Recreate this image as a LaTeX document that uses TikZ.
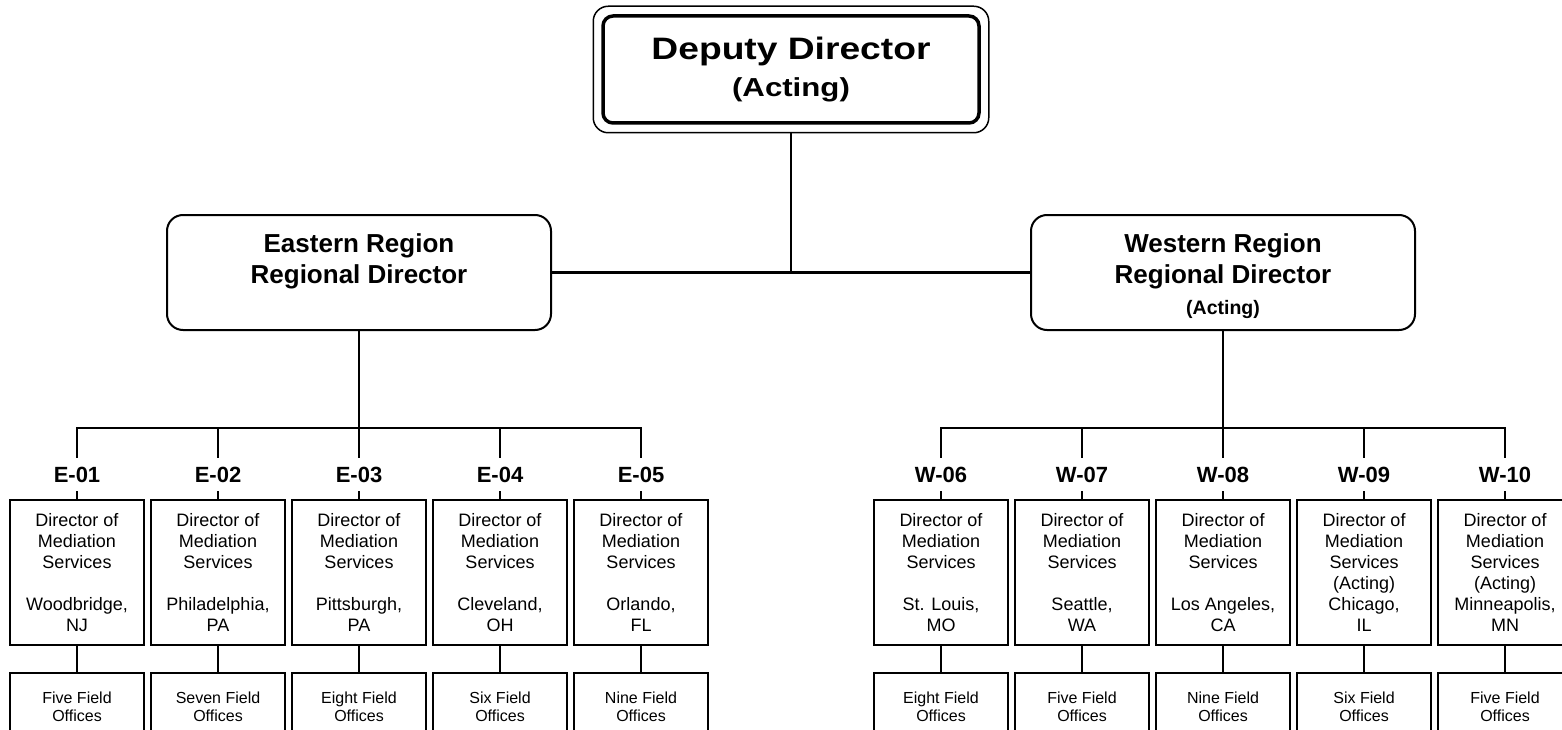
\documentclass[tikz,border=0pt]{standalone}
\usepackage{fontspec}
\setmainfont{Liberation Sans}
\newfontfamily\titlefont[FakeStretch=1.2]{Liberation Sans}
\usetikzlibrary{fit}
\tikzstyle{chief}=[draw, line width=3.5pt, rounded corners=10pt, minimum width=376pt, minimum height=107pt, inner sep=0, align=center, font=\titlefont\bfseries\fontsize{31}{37}\selectfont]
\tikzstyle{chief frame}=[draw, line width=1.5pt, rounded corners=15pt, inner sep=8pt]
\tikzstyle{region}=[draw, line width=2pt, rounded corners=16pt, minimum width=384pt, minimum height=115pt, inner sep=0, align=center, font=\bfseries\fontsize{26}{31}\selectfont]
\tikzstyle{code}=[inner sep=8.5pt, text height=16pt, text depth=0pt, font=\bfseries\fontsize{22}{26}\selectfont]
\tikzstyle{district}=[draw, line width=2pt, minimum width=134pt, minimum height=145pt, inner sep=0, align=center, font=\fontsize{18}{21}\selectfont]
\tikzstyle{field}=[draw, line width=2pt, minimum width=134pt, minimum height=67pt, inner sep=0, align=center, font=\fontsize{16}{18}\selectfont]
\tikzstyle{link}=[line width=2.5pt]

\begin{document}
\begin{tikzpicture}[x=1pt, y=-1pt]
      \clip (0, 0) rectangle (1562, 730);

      \node[chief] (deputy) at (791, 69.5) {Deputy Director\\{\fontsize{26}{37}\selectfont (Acting)}};
      \node[chief frame, fit=(deputy)] (deputy_frame) {};

      \node[region] (east) at (359, 272.5) {\rule{0pt}{27pt}Eastern Region\\Regional Director\\{\fontsize{19.5}{30}\selectfont\phantom{(Acting)}}};
      \node[region] (west) at (1223, 272.5) {\rule{0pt}{27pt}Western Region\\Regional Director\\{\fontsize{19.5}{30}\selectfont (Acting)}};

      \draw[link] (east) -- (west);
      \draw[link] (deputy_frame) -- (deputy_frame |- east);

      \coordinate (east_bus) at (359, 428);
      \coordinate (west_bus) at (1223, 428);
      \draw[link] (east) -- (east_bus);
      \draw[link] (west) -- (west_bus);

      % eastern districts
      \foreach \id/\code/\x/\city/\offices in {
          e01/E-01/77/{~\\Woodbridge,\\NJ}/Five,
          e02/E-02/218/{~\\Philadelphia,\\PA}/Seven,
          e03/E-03/359/{~\\Pittsburgh,\\PA}/Eight,
          e04/E-04/500/{~\\Cleveland,\\OH}/Six,
          e05/E-05/641/{~\\Orlando,\\FL}/Nine} {
        \node[code] (\id_label) at (\x, 474.5) {\code};
        \node[district] (\id) at (\x, 572.5) {Director of\\Mediation\\Services\\\city};
        \node[field] (\id_field) at (\x, 706.5) {\offices{} Field\\Offices};
        \draw[link] (\id_label |- east_bus) -- (\id_label);
        \draw[link] (\id_label) -- (\id);
        \draw[link] (\id) -- (\id_field);
      }

      % western districts
      \foreach \id/\code/\x/\city/\offices in {
          w06/W-06/941/{~\\St. Louis,\\MO}/Eight,
          w07/W-07/1082/{~\\Seattle,\\WA}/Five,
          w08/W-08/1223/{~\\Los Angeles,\\CA}/Nine,
          w09/W-09/1364/{(Acting)\\Chicago,\\IL}/Six,
          w10/W-10/1505/{(Acting)\\Minneapolis,\\MN}/Five} {
        \node[code] (\id_label) at (\x, 474.5) {\code};
        \node[district] (\id) at (\x, 572.5) {Director of\\Mediation\\Services\\\city};
        \node[field] (\id_field) at (\x, 706.5) {\offices{} Field\\Offices};
        \draw[link] (\id_label |- west_bus) -- (\id_label);
        \draw[link] (\id_label) -- (\id);
        \draw[link] (\id) -- (\id_field);
      }

      \draw[link, line cap=rect] (e01_label |- east_bus) -- (e05_label |- east_bus);
      \draw[link, line cap=rect] (w06_label |- west_bus) -- (w10_label |- west_bus);
    \end{tikzpicture}
\end{document}
